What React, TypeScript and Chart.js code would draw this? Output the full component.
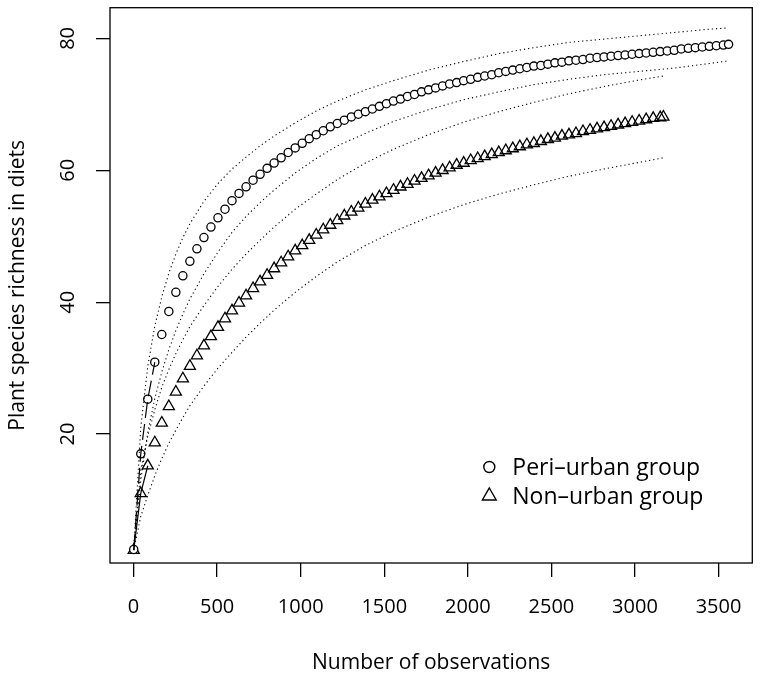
import React, { useEffect, useRef } from 'react';
import { Chart, registerables } from 'chart.js';

Chart.register(...registerables);

const FONT = "'Open Sans', sans-serif";

const X_TICKS = [0, 500, 1000, 1500, 2000, 2500, 3000, 3500];
const Y_TICKS = [20, 40, 60, 80];
const X_RANGE = [-141, 3702];
const Y_RANGE = [0.45, 84.66];

const X_TITLE = 'Number of observations';
const Y_TITLE = 'Plant species richness in diets';
const SERIES_NAMES = ['Peri–urban group', 'Non–urban group'];

const PERI_X = [1, 43, 85, 127, 169, 211, 253, 295, 337, 379, 421, 463, 505, 547, 589, 631, 673, 715, 757, 799, 841, 883, 925, 967, 1009, 1051, 1093, 1135, 1177, 1219, 1261, 1303, 1345, 1387, 1429, 1471, 1513, 1555, 1597, 1639, 1681, 1723, 1765, 1807, 1849, 1891, 1933, 1975, 2017, 2059, 2101, 2143, 2185, 2227, 2269, 2311, 2353, 2395, 2437, 2479, 2521, 2563, 2605, 2647, 2689, 2731, 2773, 2815, 2857, 2899, 2941, 2983, 3025, 3067, 3109, 3151, 3193, 3235, 3277, 3319, 3361, 3403, 3445, 3487, 3529, 3560];
const PERI_Y = [2.5, 17.0, 25.3, 30.9, 35.1, 38.6, 41.5, 44.0, 46.2, 48.1, 49.8, 51.4, 52.8, 54.1, 55.4, 56.5, 57.5, 58.5, 59.4, 60.3, 61.1, 61.9, 62.7, 63.4, 64.1, 64.8, 65.4, 66.0, 66.6, 67.1, 67.6, 68.1, 68.5, 68.9, 69.3, 69.7, 70.1, 70.5, 70.8, 71.2, 71.5, 71.9, 72.2, 72.5, 72.8, 73.1, 73.3, 73.6, 73.8, 74.1, 74.3, 74.5, 74.8, 75.0, 75.2, 75.4, 75.6, 75.8, 75.9, 76.1, 76.3, 76.4, 76.6, 76.7, 76.8, 77.0, 77.1, 77.2, 77.3, 77.4, 77.5, 77.6, 77.7, 77.8, 77.9, 78.0, 78.1, 78.2, 78.4, 78.5, 78.6, 78.7, 78.8, 78.9, 79.0, 79.1];

const NON_X = [1, 43, 85, 127, 169, 211, 253, 295, 337, 379, 421, 463, 505, 547, 589, 631, 673, 715, 757, 799, 841, 883, 925, 967, 1009, 1051, 1093, 1135, 1177, 1219, 1261, 1303, 1345, 1387, 1429, 1471, 1513, 1555, 1597, 1639, 1681, 1723, 1765, 1807, 1849, 1891, 1933, 1975, 2017, 2059, 2101, 2143, 2185, 2227, 2269, 2311, 2353, 2395, 2437, 2479, 2521, 2563, 2605, 2647, 2689, 2731, 2773, 2815, 2857, 2899, 2941, 2983, 3025, 3067, 3109, 3151, 3170];
const NON_Y = [2.4, 11.0, 15.2, 18.7, 21.7, 24.2, 26.4, 28.4, 30.3, 31.9, 33.4, 34.8, 36.2, 37.5, 38.7, 39.9, 41.0, 42.1, 43.1, 44.1, 45.1, 46.0, 46.9, 47.8, 48.6, 49.4, 50.2, 51.0, 51.7, 52.4, 53.1, 53.7, 54.3, 54.9, 55.5, 56.0, 56.5, 57.0, 57.5, 57.9, 58.4, 58.8, 59.2, 59.6, 60.0, 60.4, 60.8, 61.1, 61.5, 61.8, 62.1, 62.4, 62.7, 63.0, 63.3, 63.6, 63.9, 64.1, 64.4, 64.7, 64.9, 65.2, 65.4, 65.6, 65.9, 66.1, 66.3, 66.5, 66.7, 66.9, 67.1, 67.3, 67.5, 67.7, 67.9, 68.0, 68.1];

// short connecting lines visible at the very start of each curve
const PERI_LINE_X = [1, 43, 85, 127];
const PERI_LINE_Y = [2.5, 17.0, 25.3, 30.9];
const NON_LINE_X = [1, 43, 85];
const NON_LINE_Y = [2.4, 11.0, 15.2];

const PERI_CI_X = [1, 43, 85, 127, 169, 211, 253, 295, 337, 421, 505, 589, 673, 757, 841, 967, 1093, 1219, 1387, 1555, 1765, 1975, 2185, 2395, 2605, 2815, 3025, 3235, 3445, 3560];
const PERI_UPPER = [2.5, 21.0, 30.3, 36.4, 40.8, 44.4, 47.3, 49.8, 51.9, 55.3, 58.0, 60.2, 62.0, 63.7, 65.2, 67.2, 69.0, 70.5, 72.2, 73.6, 75.2, 76.5, 77.7, 78.6, 79.4, 79.9, 80.4, 80.9, 81.4, 81.6];
const PERI_LOWER = [2.5, 13.0, 20.3, 25.4, 29.4, 32.8, 35.7, 38.2, 40.5, 44.3, 47.6, 50.6, 53.0, 55.1, 57.0, 59.6, 61.8, 63.7, 65.6, 67.4, 69.2, 70.7, 71.9, 73.0, 73.8, 74.5, 75.0, 75.5, 76.2, 76.6];

const NON_CI_X = [1, 43, 85, 127, 169, 211, 253, 295, 337, 421, 505, 589, 673, 757, 841, 967, 1093, 1219, 1387, 1555, 1765, 1975, 2185, 2395, 2605, 2815, 3025, 3170];
const NON_UPPER = [2.4, 14.5, 19.7, 23.7, 27.1, 29.8, 32.2, 34.3, 36.3, 39.5, 42.4, 45.0, 47.3, 49.4, 51.4, 54.1, 56.4, 58.6, 61.1, 63.2, 65.4, 67.3, 68.9, 70.3, 71.6, 72.7, 73.7, 74.3];
const NON_LOWER = [2.4, 7.5, 10.7, 13.7, 16.3, 18.6, 20.6, 22.5, 24.3, 27.3, 30.0, 32.4, 34.7, 36.8, 38.8, 41.5, 43.9, 46.1, 48.6, 50.7, 52.9, 54.8, 56.4, 57.8, 59.1, 60.2, 61.2, 61.9];

const pts = (xs: number[], ys: number[]) => xs.map((x, i) => ({ x, y: ys[i] }));

const boxPlugin = {
  id: 'rbox',
  afterDraw(chart: any) {
    const { ctx, chartArea } = chart;
    ctx.save();
    ctx.strokeStyle = '#000';
    ctx.lineWidth = 1.3;
    ctx.strokeRect(chartArea.left, chartArea.top, chartArea.right - chartArea.left, chartArea.bottom - chartArea.top);
    ctx.restore();
  },
};

const legendPlugin = {
  id: 'rlegend',
  afterDraw(chart: any) {
    const { ctx, chartArea } = chart;
    const mx = chartArea.right - 263;
    const tx = chartArea.right - 240;
    const y1 = chartArea.bottom - 96;
    const y2 = chartArea.bottom - 67;
    ctx.save();
    ctx.strokeStyle = '#000';
    ctx.fillStyle = '#000';
    ctx.lineWidth = 1.4;
    ctx.beginPath();
    ctx.arc(mx, y1, 5.5, 0, Math.PI * 2);
    ctx.stroke();
    const r = 8;
    ctx.beginPath();
    ctx.moveTo(mx, y2 - r);
    ctx.lineTo(mx + r * Math.sin(Math.PI / 3), y2 + r * 0.5);
    ctx.lineTo(mx - r * Math.sin(Math.PI / 3), y2 + r * 0.5);
    ctx.closePath();
    ctx.stroke();
    ctx.font = `23px ${FONT}`;
    ctx.textBaseline = 'middle';
    ctx.textAlign = 'left';
    ctx.fillText(SERIES_NAMES[0], tx, y1 + 1);
    ctx.fillText(SERIES_NAMES[1], tx, y2 + 1);
    ctx.restore();
  },
};

export default function App() {
  const ref = useRef<HTMLCanvasElement | null>(null);

  useEffect(() => {
    if (!ref.current) return;
    const dotted = { borderColor: '#000', borderWidth: 1.1, borderDash: [1.2, 3], pointRadius: 0, showLine: true, fill: false };
    const chart = new Chart(ref.current, {
      type: 'scatter',
      data: {
        datasets: [
          { ...dotted, data: pts(PERI_CI_X, PERI_UPPER) },
          { ...dotted, data: pts(PERI_CI_X, PERI_LOWER) },
          { ...dotted, data: pts(NON_CI_X, NON_UPPER) },
          { ...dotted, data: pts(NON_CI_X, NON_LOWER) },
          { data: pts(PERI_LINE_X, PERI_LINE_Y), showLine: true, borderColor: '#000', borderWidth: 1.2, borderDash: [16, 6], pointRadius: 0 },
          { data: pts(NON_LINE_X, NON_LINE_Y), showLine: true, borderColor: '#000', borderWidth: 1.2, pointRadius: 0 },
          {
            label: SERIES_NAMES[0],
            data: pts(PERI_X, PERI_Y),
            showLine: false,
            pointStyle: 'circle',
            pointRadius: 4.1,
            pointBorderWidth: 1.3,
            pointBorderColor: '#000',
            pointBackgroundColor: '#fff',
          },
          {
            label: SERIES_NAMES[1],
            data: pts(NON_X, NON_Y),
            showLine: false,
            pointStyle: 'triangle',
            pointRadius: 6.4,
            pointBorderWidth: 1.3,
            pointBorderColor: '#000',
            pointBackgroundColor: 'rgba(255,255,255,0)',
          },
        ],
      } as any,
      options: {
        animation: false,
        responsive: false,
        events: [],
        layout: { padding: { top: 3, right: 3, left: 0, bottom: 0 } },
        plugins: { legend: { display: false }, tooltip: { enabled: false } },
        scales: {
          x: {
            type: 'linear',
            min: X_RANGE[0],
            max: X_RANGE[1],
            afterBuildTicks: (s: any) => { s.ticks = X_TICKS.map((v) => ({ value: v })); },
            afterFit: (s: any) => { s.height = 111; s.paddingLeft = 0; s.paddingRight = 0; },
            grid: { drawOnChartArea: false, drawTicks: true, tickLength: 14, color: '#000', lineWidth: 1.3 },
            border: { display: false },
            ticks: { color: '#000', font: { family: FONT, size: 20 }, padding: 18, maxRotation: 0, autoSkip: false, callback: (v: any) => String(v) },
            title: { display: true, text: X_TITLE, color: '#000', font: { family: FONT, size: 21, lineHeight: 1 }, padding: 0 },
          },
          y: {
            type: 'linear',
            min: Y_RANGE[0],
            max: Y_RANGE[1],
            afterBuildTicks: (s: any) => { s.ticks = Y_TICKS.map((v) => ({ value: v })); },
            afterFit: (s: any) => { s.width = 110; s.paddingTop = 0; s.paddingBottom = 0; },
            grid: { drawOnChartArea: false, drawTicks: true, tickLength: 14, color: '#000', lineWidth: 1.3 },
            border: { display: false },
            ticks: { color: '#000', font: { family: FONT, size: 20 }, padding: 16, minRotation: 90, maxRotation: 90, crossAlign: 'center', autoSkip: false, callback: (v: any) => String(v) },
            title: { display: true, text: Y_TITLE, color: '#000', font: { family: FONT, size: 21, lineHeight: 1 }, padding: { top: 8, bottom: 0 } },
          },
        },
      } as any,
      plugins: [boxPlugin, legendPlugin],
    });
    return () => chart.destroy();
  }, []);

  return (
    <div style={{ position: 'absolute', left: 0, top: 0, width: 760, height: 674, background: '#fff' }}>
      <canvas ref={ref} width={760} height={674} style={{ width: 760, height: 674, display: 'block' }} />
    </div>
  );
}
